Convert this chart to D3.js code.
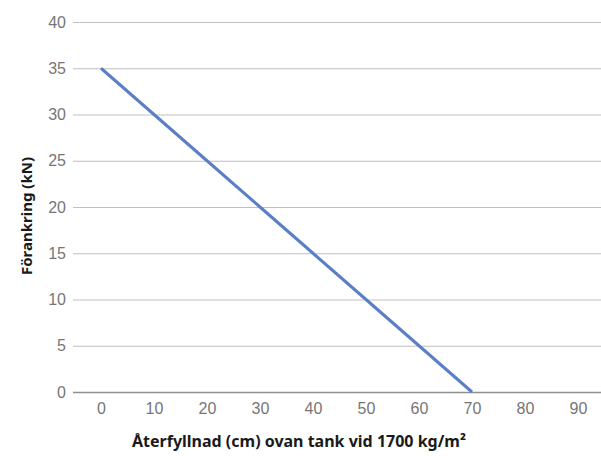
<!DOCTYPE html>
<html><head><meta charset="utf-8">
<script src="https://cdn.jsdelivr.net/npm/d3@7"></script>
<style>
html,body{margin:0;padding:0;background:#fff;}
svg{display:block;font-family:"Source Sans Pro","Noto Sans",sans-serif;}
</style></head>
<body>
<svg id="c" width="601" height="456"></svg>
<script>
const categories = [0,10,20,30,40,50,60,70,80,90];
const values = [35,30,25,20,15,10,5,0,null,null];
const yTicks = [0,5,10,15,20,25,30,35,40];
const xTitle = "Återfyllnad (cm) ovan tank vid 1700 kg/m²";
const yTitle = "Förankring (kN)";

(function(){
const svg = d3.select("#c");
const mLeft = 73, mRight = 603, mTop = 22, mBottom = 392;
const x = d3.scalePoint().domain(categories).range([mLeft + 1.5, mRight + 1.5]).padding(0.5);
const y = d3.scaleLinear().domain([0,40]).range([mBottom, mTop]);

const yAxis = d3.axisLeft(y).tickValues(yTicks).tickSize(-(mRight-mLeft)).tickPadding(7);
const gy = svg.append("g").attr("transform",`translate(${mLeft},0)`).call(yAxis);
gy.select(".domain").remove();
gy.selectAll(".tick line").attr("stroke", d => d===0 ? "#8f8f8f" : "#bfbfbf").attr("stroke-width", d => d===0 ? 1.5 : 1);
gy.selectAll(".tick text").attr("fill","#767676").style("font-size","16px");

const xAxis = d3.axisBottom(x).tickSize(0).tickPadding(11);
const gx = svg.append("g").attr("transform",`translate(0,${mBottom})`).call(xAxis);
gx.select(".domain").remove();
gx.selectAll(".tick text").attr("fill","#767676").style("font-size","16px");

const pts = categories.map((c,i)=>({c, v: values[i]})).filter(d=>d.v!==null);
svg.append("path").datum(pts)
  .attr("fill","none").attr("stroke","#5b7fc7").attr("stroke-width",3)
  .attr("d", d3.line().x(d=>x(d.c)).y(d=>y(d.v)));

svg.append("text").attr("x",299).attr("y",447).attr("text-anchor","middle")
  .style("font-size","16px").style("font-weight","bold").attr("fill","#1a1a1a").text(xTitle);
svg.append("text").attr("transform","translate(32,216) rotate(-90)").attr("text-anchor","middle")
  .style("font-size","15px").style("font-weight","bold").attr("fill","#1a1a1a").text(yTitle);
})();
</script>
</body></html>
